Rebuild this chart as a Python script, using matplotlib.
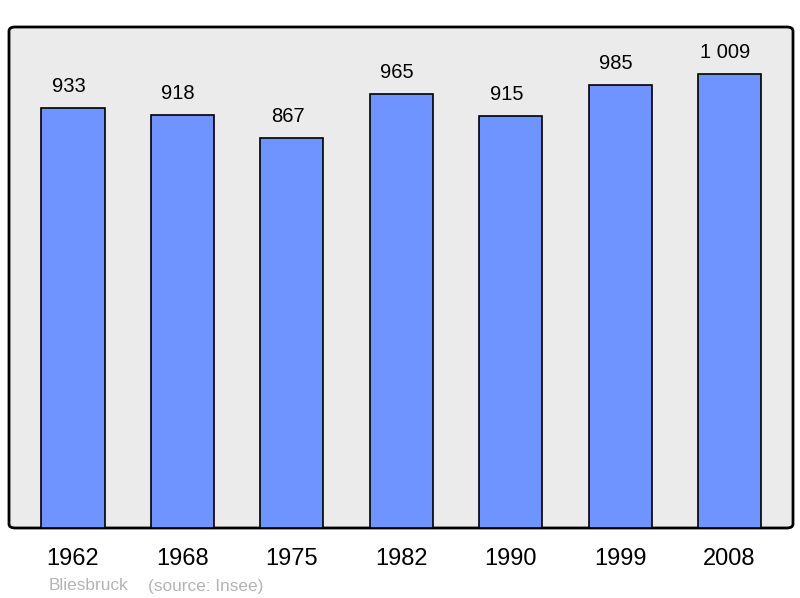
import matplotlib.pyplot as plt
from matplotlib.patches import FancyBboxPatch

years = ["1962", "1968", "1975", "1982", "1990", "1999", "2008"]
population = [933, 918, 867, 965, 915, 985, 1009]
value_labels = ["933", "918", "867", "965", "915", "985", "1 009"]

plt.rcParams['font.family'] = ['Liberation Sans', 'DejaVu Sans']

fig = plt.figure(figsize=(8, 5.98), dpi=100)
ax = fig.add_axes([9 / 800, 70 / 598, 784 / 800, 501 / 598])
ax.set_facecolor('none')

# rounded frame behind the bars
frame = FancyBboxPatch((0, 0), 1, 1,
                       boxstyle="round,pad=0,rounding_size=0.008",
                       transform=ax.transAxes, facecolor='#ebebeb',
                       edgecolor='black', linewidth=2, zorder=0, clip_on=False)
ax.add_patch(frame)

x = list(range(len(years)))
ax.bar(x, population, width=0.576, color='#7094ff', edgecolor='black',
       linewidth=1.2, zorder=2)
for xi, v, lab in zip(x, population, value_labels):
    ax.annotate(lab, (xi, v), xytext=(-3, 11.5), textcoords='offset points',
                ha='center', va='baseline', fontsize=14.5)

ax.set_xlim(-0.585, 6.58)
ax.set_ylim(0, 1113)
ax.set_xticks(x)
ax.set_xticklabels(years, fontsize=17)
ax.tick_params(axis='x', length=0, pad=14.5)
ax.set_yticks([])
for s in ax.spines.values():
    s.set_visible(False)

fig.text(49 / 800, 1 - 586 / 598, "Bliesbruck", color='#b4b4b4',
         fontsize=12.4, va='center', ha='left')
fig.text(148 / 800, 1 - 586 / 598, "(source: Insee)", color='#b4b4b4',
         fontsize=12.4, va='center', ha='left')

fig.savefig('out.png', dpi=100)
